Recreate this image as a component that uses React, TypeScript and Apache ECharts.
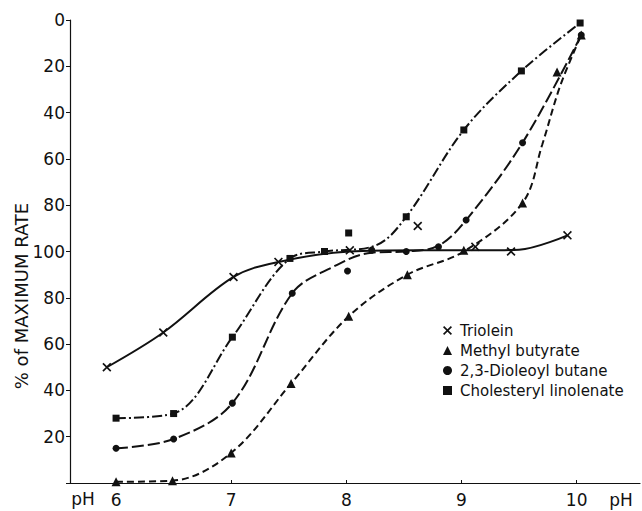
import React, { useEffect, useRef } from "react";
import * as echarts from "echarts";

// ---- data (x = pH, y = position on 0..200 scale; labels fold at 100) ----
const xTicks = [6, 7, 8, 9, 10];
const yTicks = [0, 20, 40, 60, 80, 100, 120, 140, 160, 180, 200];

const trioleinPts = [[5.92, 50], [6.41, 65], [7.02, 89], [7.41, 95.5], [8.03, 100.5], [8.62, 111], [9.12, 102], [9.43, 100], [9.92, 107]];
const trioleinCurve = [[5.92, 50], [6.41, 65], [7.02, 89], [7.41, 95.5], [8.03, 100], [8.6, 100.5], [9.2, 100.5], [9.5, 100.8], [9.92, 107]];

const methylPts = [[6.0, 0.5], [6.49, 1], [7.0, 13], [7.52, 43], [8.02, 72], [8.53, 90], [9.02, 100.5], [9.53, 121], [9.83, 177.5], [10.04, 193.5]];
const methylCurve = [[6.0, 0.5], [6.49, 1], [7.0, 13], [7.52, 43], [8.02, 72], [8.53, 90], [9.02, 100], [9.53, 121], [9.7, 146], [9.86, 172], [10.04, 193.5]];

const dioleoylPts = [[6.0, 15], [6.5, 19], [7.01, 34.5], [7.53, 82], [8.01, 91.6], [8.22, 100.6], [8.52, 100], [8.8, 102], [9.04, 113.6], [9.53, 147], [10.04, 193.5]];
const dioleoylCurve = [[6.0, 15], [6.5, 19], [7.01, 34.5], [7.53, 82], [7.87, 93], [8.22, 99.5], [8.52, 100], [8.8, 102.5], [9.04, 113.6], [9.53, 147], [10.04, 193.5]];

const cholesterylPts = [[6.0, 28], [6.5, 30], [7.01, 63], [7.51, 97], [7.81, 100], [8.02, 108], [8.52, 115], [9.02, 152.5], [9.52, 178], [10.03, 198.7]];
const cholesterylCurve = [[6.0, 28], [6.5, 30], [7.01, 63], [7.51, 97], [7.81, 100], [8.25, 102.5], [8.52, 115], [9.02, 152.5], [9.52, 178], [10.03, 198.7]];

const names = ["Triolein", "Methyl butyrate", "2,3-Dioleoyl butane", "Cholesteryl linolenate"];

const X_MARK = "path://M0,1.3L1.3,0L5,3.7L8.7,0L10,1.3L6.3,5L10,8.7L8.7,10L5,6.3L1.3,10L0,8.7L3.7,5Z";
const INK = "#111";
const FONT = "DejaVu Sans";

export default function App() {
  const ref = useRef<HTMLDivElement>(null);
  useEffect(() => {
    if (!ref.current) return;
    const chart = echarts.init(ref.current, null, { renderer: "svg" });
    const line = (name: string, data: number[][], type: any) => ({
      name,
      type: "line",
      data,
      symbol: "none",
      showSymbol: false,
      smooth: 0.35,
      silent: true,
      z: 1,
      lineStyle: { color: INK, width: 2, type },
    });
    const pts = (name: string, data: number[][], symbol: string, size: number) => ({
      name,
      type: "scatter",
      data,
      symbol,
      symbolSize: size,
      z: 3,
      itemStyle: { color: INK, opacity: 1 },
    });
    chart.setOption({
      animation: false,
      backgroundColor: "#fff",
      grid: { left: 70, right: 2, top: 20, bottom: 28 },
      xAxis: {
        type: "value",
        min: 5.6,
        max: 10.55,
        splitLine: { show: false },
        axisLine: { show: true, lineStyle: { color: INK, width: 1.2 } },
        axisTick: { show: true, inside: true, length: 3, customValues: xTicks, lineStyle: { color: INK } },
        axisLabel: { customValues: xTicks, margin: 8, color: INK, fontSize: 17, fontFamily: FONT },
      },
      yAxis: {
        type: "value",
        min: 0,
        max: 200,
        interval: 20,
        splitLine: { show: false },
        axisLine: { show: true, lineStyle: { color: INK, width: 1.2 } },
        axisTick: { show: true, length: 4, lineStyle: { color: INK } },
        axisLabel: {
          margin: 5,
          color: INK,
          fontSize: 17,
          fontFamily: FONT,
          formatter: (v: number) => (v === 0 ? "" : String(v <= 100 ? v : 200 - v)),
        },
      },
      legend: {
        orient: "vertical",
        left: 438,
        top: 318,
        itemWidth: 9,
        itemHeight: 9,
        itemGap: 5,
        selectedMode: false,
        data: names,
        textStyle: { fontFamily: FONT, fontSize: 15, color: INK, lineHeight: 15, padding: [0, 0, 0, 3] },
      },
      graphic: [
        {
          type: "text",
          x: 21,
          y: 296,
          rotation: Math.PI / 2,
          style: { text: "% of MAXIMUM RATE", fontFamily: FONT, fontSize: 18, fill: INK, align: "center", verticalAlign: "middle" },
        },
        { type: "text", x: 83, y: 499, style: { text: "pH", fontFamily: FONT, fontSize: 17, fill: INK, align: "center", verticalAlign: "middle" } },
        { type: "text", x: 621, y: 500, style: { text: "pH", fontFamily: FONT, fontSize: 17, fill: INK, align: "center", verticalAlign: "middle" } },
      ],
      series: [
        line("Triolein curve", trioleinCurve, "solid"),
        line("Methyl butyrate curve", methylCurve, [7, 4]),
        line("2,3-Dioleoyl butane curve", dioleoylCurve, [12, 4]),
        line("Cholesteryl linolenate curve", cholesterylCurve, [10, 3, 2, 3]),
        pts(names[0], trioleinPts, X_MARK, 9),
        pts(names[1], methylPts, "triangle", 9),
        pts(names[2], dioleoylPts, "circle", 7),
        pts(names[3], cholesterylPts, "rect", 7),
      ],
    });
    return () => chart.dispose();
  }, []);
  return <div ref={ref} style={{ position: "fixed", left: 0, top: 0, width: 642, height: 511, background: "#fff" }} />;
}
